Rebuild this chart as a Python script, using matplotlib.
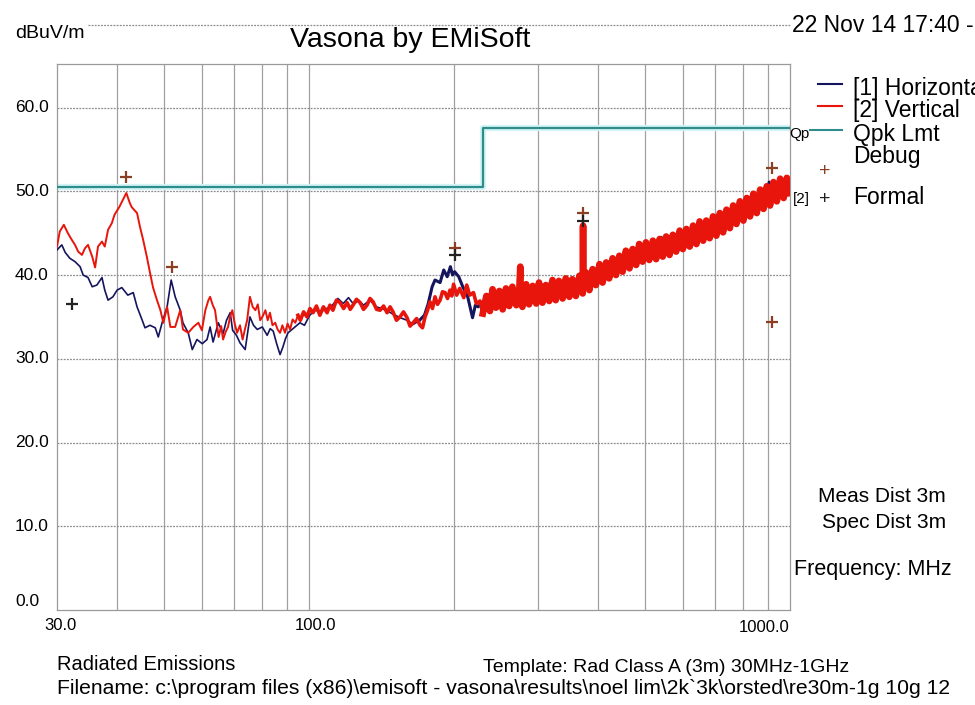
"""
Vasona by EMiSoft radiated emissions scan, 30 MHz - 1 GHz, redrawn with matplotlib.
"""

import matplotlib
matplotlib.use("Agg")
import matplotlib.pyplot as plt
from matplotlib.lines import Line2D
from matplotlib.ticker import NullLocator

plt.rcParams["font.family"] = ["Liberation Sans", "DejaVu Sans"]

# ---- data (MHz, dBuV/m) ----
H_FREQ = [30.0, 30.7, 31.2, 31.9, 32.7, 33.5, 34.0, 34.8, 35.5, 36.3, 37.2, 37.7, 38.3, 39.2,
          40.0, 40.9, 42.1, 43.2, 44.0, 45.1, 45.7, 46.8, 48.0, 48.7, 49.6, 50.8, 51.8, 52.8,
          54.1, 54.8, 56.2, 57.3, 58.6, 60.1, 61.5, 62.4, 63.3, 64.9, 66.4, 67.5, 68.7, 69.5,
          70.8, 72.0, 73.8, 75.5, 76.8, 78.2, 80.1, 82.0, 83.2, 84.4, 85.8, 87.2, 88.4, 89.5,
          90.6, 92.8, 95.9, 98.0, 100.5, 103.0, 106.0, 109.0, 112.0, 115.0, 118.0, 121.0,
          124.0, 127.0, 130.0, 134.0, 138.0, 142.0, 146.0, 150.0, 155.0, 160.0, 165.0, 170.0,
          174.0, 177.0, 180.5, 183.0, 187.5, 190.8, 194.0, 197.0, 199.0, 201.0, 205.0, 209.0,
          214.0, 219.0, 222.0, 225.0, 230, 237, 244, 251, 258, 266, 274, 282, 290, 299, 308,
          317, 327, 337, 347, 357, 368, 371.6, 372.2, 379, 390, 402, 414, 426, 439, 452, 466,
          480, 494, 509, 524, 540, 556, 573, 590, 608, 626, 645, 664, 684, 705, 726, 748, 770,
          793, 817, 842, 867, 893, 905, 920, 948, 976, 1000]
H_LEVEL = [43.0, 43.6, 42.7, 42.0, 41.6, 41.0, 40.0, 39.7, 38.6, 38.8, 39.7, 38.2, 37.0, 37.4,
           38.2, 38.5, 37.6, 37.9, 36.2, 34.6, 33.7, 34.0, 33.7, 32.6, 34.3, 36.2, 39.4, 37.4,
           35.8, 34.3, 33.1, 31.1, 32.3, 31.8, 32.3, 33.8, 32.0, 34.3, 33.0, 34.6, 35.5, 33.4,
           32.8, 31.9, 31.1, 35.0, 34.0, 33.5, 33.8, 32.8, 33.6, 33.3, 31.8, 30.5, 31.4, 32.4,
           33.1, 33.6, 34.3, 34.0, 35.2, 35.8, 35.6, 36.0, 36.4, 37.2, 36.6, 37.3,
           36.5, 37.0, 36.4, 37.0, 36.2, 36.0, 35.7, 35.3, 34.9, 34.6, 34.1, 34.6,
           35.2, 36.5, 38.6, 39.4, 39.1, 40.6, 39.8, 41.0, 40.0, 40.4, 39.8, 38.6,
           37.4, 34.9, 36.4, 36.2, 36.8, 37.6, 37.2, 37.9, 37.4, 38.0, 37.6, 38.4, 38.0, 38.7, 38.2,
           39.0, 38.5, 39.2, 38.8, 39.4, 38.9, 45.6, 39.0, 39.2, 39.6, 40.2, 40.5, 41.0, 41.2, 41.7, 42.0,
           42.3, 42.8, 43.0, 43.2, 44.5, 43.7, 43.9, 44.2, 44.6, 44.8, 45.3, 45.4, 45.8, 46.1, 46.5, 46.8, 47.3,
           47.6, 48.2, 48.5, 49.0, 49.4, 51.1, 49.8, 50.3, 50.5, 50.8]

V_FREQ = [30.0, 30.4, 31.0, 31.6, 32.2, 32.7, 33.2, 33.8, 34.3, 34.8, 35.5, 36.0, 36.5, 37.2,
          37.7, 38.3, 39.0, 39.5, 40.4, 41.3, 41.8, 42.5, 42.9, 44.0, 44.6, 45.3, 46.1, 46.8,
          47.5, 48.4, 49.2, 49.9, 50.8, 51.6, 52.8, 54.1, 54.8, 56.2, 57.6, 59.0,
          60.0, 61.0, 61.9, 62.4, 63.2, 63.9, 64.5, 65.0, 65.8, 66.4, 67.2, 68.0, 68.7, 69.4,
          70.2, 71.0, 72.0, 72.9, 73.7, 74.5, 75.5, 76.5, 77.5, 78.4, 79.3, 80.3, 81.3, 82.2,
          83.1, 84.1, 85.2, 86.2, 87.2, 88.2, 89.3, 90.4, 91.5, 92.6, 93.8, 95.0, 96.1, 97.6,
          99.2, 100.6, 102.1, 103.8, 105.5, 107.3, 109.2, 110.7, 112.3, 114.2, 116.2, 118.2,
          120.2, 122.0, 123.6, 125.7, 127.9, 130.0, 132.2, 134.1, 136.1, 138.4, 140.7, 143.1,
          145.5, 147.6, 149.7, 152.2, 154.8, 157.4, 160.1, 162.4, 164.8, 167.6, 170.4, 172.4,
          174.5, 176.6, 178.7, 180.8, 183.0, 185.2, 187.5, 189.7, 192.0, 194.3, 196.6, 198.3,
          200, 203, 206, 210, 213, 216, 220, 223, 227, 230, 234, 238, 241, 245, 249, 253, 257,
          261, 265, 270, 274, 275.2, 275.8, 278, 283, 287, 292, 297, 301, 306, 311, 316, 321,
          326, 331, 337, 342, 348, 353, 359, 365, 371, 371.6, 372.2, 377, 383, 389, 395, 402,
          408, 415, 421, 428, 435, 442, 449, 456, 464, 471, 479, 486, 494, 502, 510, 519, 527,
          536, 544, 553, 562, 571, 580, 590, 599, 609, 619, 629, 639, 649, 660, 670, 681, 692,
          703, 715, 726, 738, 750, 762, 774, 787, 800, 813, 826, 839, 853, 867, 881, 895, 909,
          924, 939, 954, 970, 985, 1000]
V_LEVEL = [43.4, 45.2, 46.0, 45.0, 44.2, 43.6, 42.8, 42.4, 43.2, 43.6, 42.2, 40.9, 43.4, 44.0,
           43.4, 45.4, 46.2, 47.2, 48.1, 49.2, 49.8, 48.6, 48.1, 47.4, 45.8, 44.2, 42.2, 40.3,
           38.5, 37.0, 35.8, 34.3, 36.2, 33.8, 33.8, 35.8, 33.5, 33.1, 33.8, 34.3,
           33.4, 35.8, 37.0, 37.4, 36.4, 35.8, 34.0, 32.6, 33.9, 32.3, 33.2, 33.8, 35.1, 35.8,
           34.2, 33.1, 34.0, 32.3, 33.5, 34.6, 37.4, 36.2, 35.8, 36.5, 34.6, 35.1, 35.8, 34.6,
           35.5, 34.0, 34.3, 33.5, 33.1, 34.0, 33.1, 34.2, 33.5, 34.7, 34.3, 35.2, 34.6, 35.6,
           35.0, 36.0, 35.5, 36.3, 35.2, 36.2, 35.5, 36.4, 35.8, 37.0, 36.7, 36.0,
           36.7, 35.9, 36.4, 37.1, 36.7, 35.9, 36.4, 37.2, 36.8, 35.9, 35.8, 36.3,
           35.5, 36.2, 35.6, 34.6, 35.0, 35.6, 34.9, 33.9, 34.3, 34.8, 34.0, 33.7,
           35.0, 35.8, 36.8, 36.0, 37.4, 36.5, 37.0, 38.0, 37.9, 37.2, 38.2, 37.5,
           38.9, 37.6, 38.4, 37.3, 38.8, 37.6, 37.9, 36.6, 36.9, 35.4, 37.5, 35.7, 38.3, 36.1, 38.1, 35.9, 38.4,
           36.3, 38.6, 36.4, 38.4, 41.0, 37.0, 36.2, 38.9, 36.5, 38.7, 36.6, 39.1, 36.7, 38.8, 36.9, 39.4,
           37.0, 39.3, 37.2, 39.6, 37.4, 39.5, 37.5, 39.9, 37.8, 45.9, 38.3, 40.3, 38.2, 40.7, 38.8, 41.3,
           39.1, 41.5, 39.6, 42.0, 40.0, 42.3, 40.4, 42.9, 40.8, 43.1, 41.2, 43.7, 41.6, 43.9, 41.8, 44.1, 41.9,
           44.3, 42.2, 44.6, 42.4, 44.8, 42.8, 45.3, 43.1, 45.5, 43.4, 45.9, 43.7, 46.4, 44.1, 46.5, 44.4, 47.0,
           44.7, 47.4, 45.1, 47.8, 45.6, 48.3, 46.1, 48.8, 46.5, 49.2, 47.0, 49.7, 47.4, 50.2, 47.9, 50.6, 48.3,
           51.1, 48.8, 51.5, 49.2, 51.6, 49.8]

LIMIT_FREQ = [30, 230, 1000]
LIMIT_LEVEL = [50.5, 57.5, 57.5]

DEBUG_FREQ = [41.8, 52.0, 201.0, 371.6, 917.0, 917.0]
DEBUG_LEVEL = [51.7, 41.0, 43.2, 47.4, 52.8, 34.4]
FORMAL_FREQ = [32.2, 201.0, 371.6]
FORMAL_LEVEL = [36.6, 42.4, 46.5]

GRID_FREQS = [40, 50, 60, 70, 80, 90, 100, 200, 300, 400, 500, 600, 700, 800, 900]
Y_TICKS = [0, 10, 20, 30, 40, 50, 60]

W, H = 975, 705
NAVY, RED, TEAL, BROWN = "#15155e", "#e8150c", "#2f8c8c", "#8a3f22"


def fx(px):
    return px / W


def fy(py):
    return 1 - py / H


def fig_line(fig, xs, ys, **kw):
    fig.add_artist(Line2D([fx(x) for x in xs], [fy(y) for y in ys],
                          transform=fig.transFigure, **kw))


def above(freqs, levels, fmin):
    keep = [(f, v) for f, v in zip(freqs, levels) if f >= fmin]
    return [f for f, _ in keep], [v for _, v in keep]


fig = plt.figure(figsize=(W / 100, H / 100), dpi=100)
ax = fig.add_axes([fx(57), fy(610), (790 - 57) / W, (610 - 64) / H])
ax.set_xscale("log")
ax.set_xlim(30, 1000)
ax.set_ylim(0, 65.2)
ax.xaxis.set_minor_locator(NullLocator())
ax.set_xticks([])
ax.set_yticks([])
for s in ax.spines.values():
    s.set_color("#9a9a9a")
    s.set_linewidth(0.9)

for f in GRID_FREQS:
    ax.axvline(f, color="#a0a0a0", lw=0.9, zorder=0)
for y in Y_TICKS[1:]:
    ax.axhline(y, color="#8c8c8c", lw=0.9, ls=(0, (1.5, 1)), zorder=0)

# limit line with its pale halo
ax.plot(LIMIT_FREQ, LIMIT_LEVEL, drawstyle="steps-post", color="#d2f4f4", lw=4.5, zorder=2)
ax.plot(LIMIT_FREQ, LIMIT_LEVEL, drawstyle="steps-post", color=TEAL, lw=1.6, zorder=3)

# traces: the dense upper part of the sweep smears into a thick band
ax.plot(H_FREQ, H_LEVEL, color=NAVY, lw=1.2, zorder=4)
ax.plot(*above(H_FREQ, H_LEVEL, 170), color=NAVY, lw=2.2, zorder=4)
ax.plot(V_FREQ, V_LEVEL, color=RED, lw=1.4, zorder=5)
ax.plot(*above(V_FREQ, V_LEVEL, 95), color=RED, lw=2.6, zorder=5)
ax.plot(*above(V_FREQ, V_LEVEL, 230), color=RED, lw=4.8, zorder=5)

ax.plot(DEBUG_FREQ, DEBUG_LEVEL, "+", color=BROWN, ms=8, mew=1.6, zorder=6)
ax.plot(FORMAL_FREQ, FORMAL_LEVEL, "+", color="#222222", ms=8, mew=1.6, zorder=6)

# axis labels drawn like the instrument software does
for v in Y_TICKS:
    py = 610 - v * (610 - 108) / 60
    if v == 0:
        py -= 8
    fig.text(fx(15), fy(py), f"{v:.1f}", fontsize=12.5, ha="left", va="center")
fig.text(fx(60), fy(625), "30.0", fontsize=12, ha="center", va="center")
fig.text(fx(315), fy(625), "100.0", fontsize=12, ha="center", va="center")
fig.text(fx(789), fy(628), "1000.0", fontsize=12, ha="right", va="center")

# header
fig_line(fig, [88, 790], [25, 25], color="#8c8c8c", lw=0.9, ls=(0, (1.5, 1)))
fig.text(fx(15), fy(33), "dBuV/m", fontsize=14, ha="left", va="center")
fig.text(fx(410), fy(40), "Vasona by EMiSoft", fontsize=20.5, ha="center", va="center",
         bbox=dict(fc="white", ec="none", pad=0))
fig.text(fx(792), fy(25), "22 Nov 14 17:40 -", fontsize=16.5, ha="left", va="center")

# legend
fig_line(fig, [818, 842], [84, 84], color=NAVY, lw=1.5)
fig_line(fig, [818, 842], [106, 106], color=RED, lw=1.5)
fig_line(fig, [810, 842], [130, 130], color=TEAL, lw=1.5)
fig.text(fx(853), fy(88), "[1] Horizontal", fontsize=16.5, ha="left", va="center")
fig.text(fx(853), fy(110), "[2] Vertical", fontsize=16.5, ha="left", va="center")
fig.text(fx(809), fy(134), "Qp", fontsize=11, ha="right", va="center")
fig.text(fx(853), fy(134), "Qpk Lmt", fontsize=16.5, ha="left", va="center")
fig.text(fx(853), fy(157), "Debug", fontsize=16.5, ha="left", va="center")
fig.text(fx(853), fy(197), "Formal", fontsize=16.5, ha="left", va="center")
fig.text(fx(825), fy(172), "+", fontsize=14, color=BROWN, ha="center", va="center")
fig.text(fx(825), fy(199), "+", fontsize=14, color="#222222", ha="center", va="center")
fig.text(fx(801), fy(199), "[2]", fontsize=11, ha="center", va="center")

# distance / units notes
fig.text(fx(946), fy(496), "Meas Dist 3m", fontsize=15, ha="right", va="center")
fig.text(fx(946), fy(522), "Spec Dist 3m", fontsize=15, ha="right", va="center")
fig.text(fx(952), fy(570), "Frequency: MHz", fontsize=15.5, ha="right", va="center")

# footer
fig.text(fx(57), fy(664), "Radiated Emissions", fontsize=14.5, ha="left", va="center")
fig.text(fx(666), fy(667), "Template: Rad Class A (3m) 30MHz-1GHz", fontsize=14,
         ha="center", va="center")
fig.text(fx(57), fy(688),
         "Filename: c:\\program files (x86)\\emisoft - vasona\\results\\noel lim\\2k`3k\\orsted\\re30m-1g 10g 12",
         fontsize=15.2, ha="left", va="center")

fig.savefig("out.png", dpi=100)
